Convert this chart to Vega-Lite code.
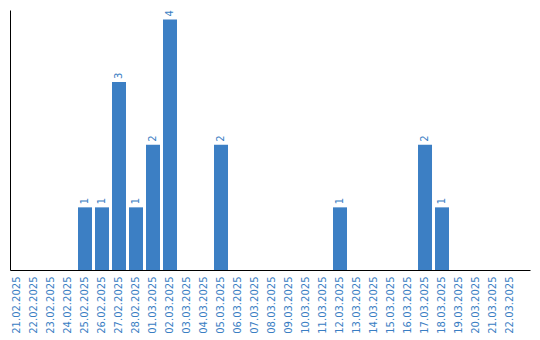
{
  "$schema": "https://vega.github.io/schema/vega-lite/v6.json",
  "autosize": {"type": "none"},
  "width": 520,
  "height": 260,
  "padding": {"left": 10, "top": 10, "right": 10, "bottom": 70},
  "background": "white",
  "config": {"view": {"stroke": null}, "font": "DejaVu Sans"},
  "data": {"values": [
    {"date": "21.02.2025", "count": 0},
    {"date": "22.02.2025", "count": 0},
    {"date": "23.02.2025", "count": 0},
    {"date": "24.02.2025", "count": 0},
    {"date": "25.02.2025", "count": 1},
    {"date": "26.02.2025", "count": 1},
    {"date": "27.02.2025", "count": 3},
    {"date": "28.02.2025", "count": 1},
    {"date": "01.03.2025", "count": 2},
    {"date": "02.03.2025", "count": 4},
    {"date": "03.03.2025", "count": 0},
    {"date": "04.03.2025", "count": 0},
    {"date": "05.03.2025", "count": 2},
    {"date": "06.03.2025", "count": 0},
    {"date": "07.03.2025", "count": 0},
    {"date": "08.03.2025", "count": 0},
    {"date": "09.03.2025", "count": 0},
    {"date": "10.03.2025", "count": 0},
    {"date": "11.03.2025", "count": 0},
    {"date": "12.03.2025", "count": 1},
    {"date": "13.03.2025", "count": 0},
    {"date": "14.03.2025", "count": 0},
    {"date": "15.03.2025", "count": 0},
    {"date": "16.03.2025", "count": 0},
    {"date": "17.03.2025", "count": 2},
    {"date": "18.03.2025", "count": 1},
    {"date": "19.03.2025", "count": 0},
    {"date": "20.03.2025", "count": 0},
    {"date": "21.03.2025", "count": 0},
    {"date": "22.03.2025", "count": 0}
  ]},
  "encoding": {
    "x": {
      "field": "date", "type": "nominal", "sort": null,
      "scale": {"paddingInner": 0.1765, "paddingOuter": 0.382, "align": 0},
      "axis": {
        "title": null, "ticks": false, "labelAngle": -90, "labelAlign": "right", "labelBaseline": "middle",
        "labelColor": "#3a7ec3", "labelFontSize": 10, "labelPadding": 6,
        "domainColor": "#000000", "domainWidth": 1, "grid": false, "labelFont": "DejaVu Sans"
      }
    },
    "y": {
      "field": "count", "type": "quantitative",
      "scale": {"domain": [0, 4.15], "nice": false},
      "axis": {"title": null, "ticks": false, "labels": false, "grid": false, "domainColor": "#000000", "domainWidth": 1}
    }
  },
  "layer": [
    {"mark": {"type": "bar", "color": "#3c7fc4"}},
    {
      "transform": [{"filter": "datum.count > 0"}],
      "mark": {"type": "text", "angle": 270, "align": "left", "baseline": "middle", "dx": 3, "fontSize": 10, "color": "#3a7ec3", "font": "DejaVu Sans"},
      "encoding": {"text": {"field": "count", "type": "quantitative"}}
    }
  ]
}
